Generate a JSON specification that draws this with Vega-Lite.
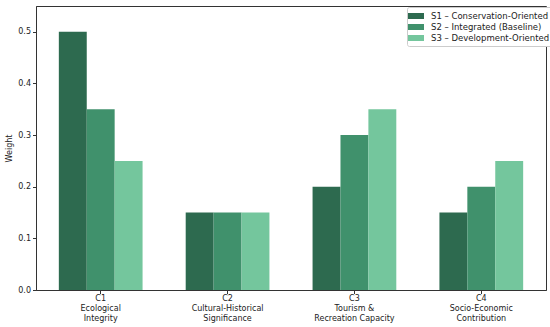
{
  "$schema": "https://vega.github.io/schema/vega-lite/v6.json",
  "width": 510,
  "height": 284,
  "autosize": {"type": "none"},
  "padding": {"left": 36, "top": 6, "right": 4, "bottom": 37},
  "background": "white",
  "config": {
    "font": "DejaVu Sans",
    "view": {"stroke": "#333", "strokeWidth": 1},
    "axis": {"labelColor": "#222", "titleColor": "#222", "domainColor": "#333", "tickColor": "#333", "labelFontSize": 8, "titleFontSize": 8, "titleFontWeight": "normal", "grid": false}
  },
  "data": {
    "values": [
      {"c": "C1|Ecological|Integrity", "s": "S1 – Conservation-Oriented", "w": 0.5},
      {"c": "C1|Ecological|Integrity", "s": "S2 – Integrated (Baseline)", "w": 0.35},
      {"c": "C1|Ecological|Integrity", "s": "S3 – Development-Oriented", "w": 0.25},
      {"c": "C2|Cultural-Historical|Significance", "s": "S1 – Conservation-Oriented", "w": 0.15},
      {"c": "C2|Cultural-Historical|Significance", "s": "S2 – Integrated (Baseline)", "w": 0.15},
      {"c": "C2|Cultural-Historical|Significance", "s": "S3 – Development-Oriented", "w": 0.15},
      {"c": "C3|Tourism &|Recreation Capacity", "s": "S1 – Conservation-Oriented", "w": 0.2},
      {"c": "C3|Tourism &|Recreation Capacity", "s": "S2 – Integrated (Baseline)", "w": 0.3},
      {"c": "C3|Tourism &|Recreation Capacity", "s": "S3 – Development-Oriented", "w": 0.35},
      {"c": "C4|Socio-Economic|Contribution", "s": "S1 – Conservation-Oriented", "w": 0.15},
      {"c": "C4|Socio-Economic|Contribution", "s": "S2 – Integrated (Baseline)", "w": 0.2},
      {"c": "C4|Socio-Economic|Contribution", "s": "S3 – Development-Oriented", "w": 0.25}
    ]
  },
  "mark": {"type": "bar"},
  "encoding": {
    "x": {
      "field": "c", "type": "nominal", "sort": null,
      "scale": {"paddingInner": 0.34, "paddingOuter": 0.18},
      "axis": {"title": null, "labelAngle": 0, "labelExpr": "split(datum.label, '|')", "labelLineHeight": 10, "labelPadding": 1, "tickSize": 3.5, "labelBaseline": "top"}
    },
    "xOffset": {"field": "s", "type": "nominal", "sort": null, "scale": {"paddingInner": 0, "paddingOuter": 0}},
    "y": {
      "field": "w", "type": "quantitative",
      "scale": {"domain": [0, 0.55], "nice": false},
      "axis": {"title": "Weight", "values": [0, 0.1, 0.2, 0.3, 0.4, 0.5], "format": ".1f", "tickSize": 3.5, "labelPadding": 2, "titlePadding": 4}
    },
    "color": {
      "field": "s", "type": "nominal", "sort": null,
      "scale": {"range": ["#2d6a4f", "#40916c", "#74c69d"]},
      "legend": {
        "title": null, "orient": "none", "legendX": 371, "legendY": 1,
        "fillColor": "white", "strokeColor": "#ccc", "padding": 3, "cornerRadius": 2,
        "labelFontSize": 8.5, "labelColor": "#222", "rowPadding": 0,
        "symbolType": "M-1.33,-0.5H1.33V0.5H-1.33Z", "symbolSize": 144, "symbolStrokeWidth": 0, "symbolOpacity": 1,
        "symbolOffset": 0, "labelOffset": 9
      }
    }
  }
}
